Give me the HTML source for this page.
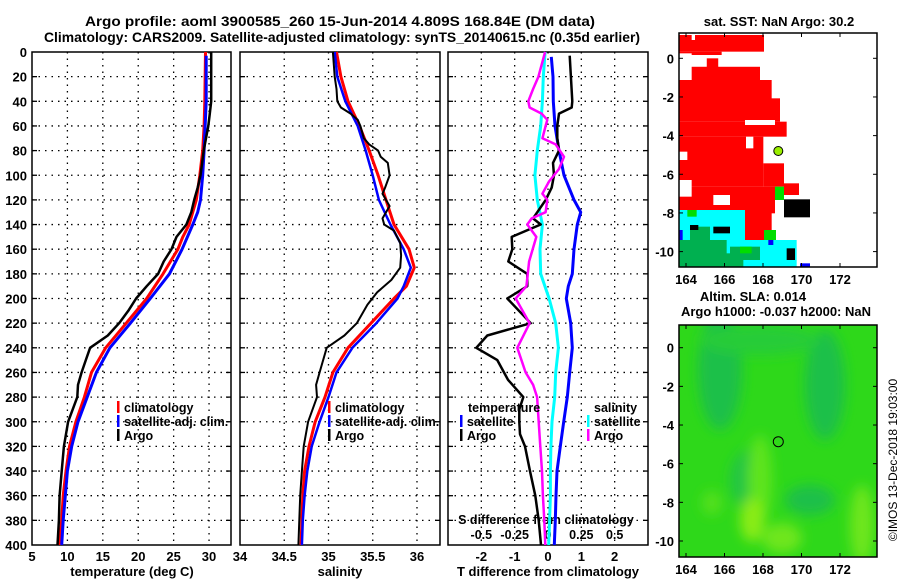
<!DOCTYPE html>
<html><head><meta charset="utf-8">
<style>
html,body{margin:0;padding:0;background:#fff;}
svg{display:block;font-family:"Liberation Sans",Arial,sans-serif;font-weight:bold;}
</style></head>
<body>
<svg id="chart" width="900" height="580" viewBox="0 0 900 580" xmlns="http://www.w3.org/2000/svg">
<text x="340" y="26" font-size="14" text-anchor="middle" textLength="510" lengthAdjust="spacingAndGlyphs">Argo profile: aoml 3900585_260 15-Jun-2014 4.809S 168.84E (DM data)</text>
<text x="342" y="42" font-size="14" text-anchor="middle" textLength="596" lengthAdjust="spacingAndGlyphs">Climatology: CARS2009. Satellite-adjusted climatology: synTS_20140615.nc (0.35d earlier)</text>
<g id="plots"></g>
<g id="maps"></g>
</svg>
<script>
// ---------- data ----------
const depthTicks = [0,20,40,60,80,100,120,140,160,180,200,220,240,260,280,300,320,340,360,380,400];
const tempTicks = [5,10,15,20,25,30];
const salTicks = [34,34.5,35,35.5,36];
const tdiffTicks = [-2,-1,0,1,2];
const sdiffTicks = [-0.5,-0.25,0,0.25,0.5];
const sdiffLabels = ["-0.5","-0.25","0","0.25","0.5"];

const argoTempDepth = [0,20,40,50,60,80,100,110,120,130,140,150,160,170,180,190,200,210,220,230,240,250,260,270,280,300,320,340,360,380,400];
const argoTemp = [30.3,30.3,30.3,30.1,29.9,29.25,28.8,28.4,27.9,27.5,26.8,25.4,24.7,23.6,22.8,21.2,19.7,18.6,17.3,15.7,13.2,12.6,12.0,11.5,11.4,10.1,9.5,9.2,8.9,8.8,8.6];
const climDepth = [0,40,60,80,100,120,140,150,160,180,200,220,240,260,280,300,320,340,360,380,400];
const climTemp = [29.5,29.4,29.3,29.1,28.7,28.2,27.2,26.3,25.6,23.5,21.2,18.3,15.4,13.4,12.4,11.2,10.3,9.8,9.4,9.2,8.9];
const satDepth = [3,40,80,100,120,130,140,160,180,200,220,240,260,280,300,320,340,360,380,400];
const satTemp = [29.6,29.6,29.3,29.1,28.8,28.4,27.7,26.2,24.4,21.7,18.9,16.0,14.1,12.8,11.5,10.6,10.0,9.7,9.4,9.2];

const argoSalDepth = [0,20,30,40,45,50,55,60,70,75,80,85,90,100,110,115,125,135,140,145,155,165,175,185,195,205,220,230,240,260,270,280,300,320,340,360,380,400];
const argoSal = [35.05,35.07,35.09,35.10,35.14,35.25,35.33,35.36,35.40,35.46,35.56,35.59,35.67,35.69,35.64,35.61,35.69,35.61,35.63,35.74,35.81,35.82,35.81,35.71,35.55,35.44,35.32,35.18,34.98,34.90,34.86,34.87,34.77,34.72,34.70,34.68,34.67,34.66];
const climSalDepth = [0,20,40,60,80,100,120,140,160,175,190,200,220,240,260,280,300,320,340,360,380,400];
const climSal = [35.09,35.14,35.22,35.35,35.46,35.56,35.65,35.74,35.91,35.97,35.88,35.74,35.48,35.22,35.05,34.96,34.85,34.78,34.73,34.71,34.70,34.69];
const satSalDepth = [0,20,40,60,80,100,120,140,160,175,190,200,220,240,260,280,300,320,340,360,380,400];
const satSal = [35.07,35.10,35.19,35.33,35.42,35.50,35.57,35.70,35.85,35.93,35.85,35.78,35.54,35.27,35.09,35.00,34.90,34.81,34.76,34.73,34.71,34.70];

const argoTdiffDepth = [3,40,45,50,60,70,80,90,100,110,120,135,140,150,160,170,180,190,200,220,230,240,250,266,280,290,300,310,320,340,360,380,400];
const argoTdiff = [0.65,0.73,0.71,0.33,0.28,0.28,0.33,0.15,0.18,0.11,-0.07,-0.45,-0.22,-1.09,-1.07,-1.19,-0.62,-0.62,-1.22,-0.52,-1.82,-2.15,-1.52,-1.2,-0.74,-0.86,-0.86,-0.84,-0.69,-0.54,-0.38,-0.28,-0.21];
const satTdiffDepth = [4,20,40,60,80,100,120,130,140,160,180,190,200,220,240,260,280,300,320,340,360,380,400];
const satTdiff = [0.10,0.15,0.16,0.21,0.33,0.48,0.78,0.98,0.88,0.78,0.73,0.61,0.55,0.68,0.73,0.65,0.58,0.47,0.37,0.27,0.24,0.22,0.19];
const satSdiffDepth = [0,20,40,60,80,100,120,140,160,180,200,220,240,260,280,300,320,340,360,380,400];
const satSdiff = [-0.022,-0.035,-0.042,-0.055,-0.08,-0.098,-0.08,-0.042,-0.06,-0.055,0.008,0.058,0.078,0.058,0.05,0.03,0.022,0.018,0.018,0.012,0.005];
const argoSdiffDepth = [0,20,30,40,45,50,55,60,70,75,85,95,105,115,120,130,135,140,150,170,190,200,220,240,260,270,280,300,320,340,360,380,400];
const argoSdiff = [-0.022,-0.072,-0.112,-0.148,-0.138,-0.048,-0.005,-0.018,-0.042,0.058,0.12,0.082,0.008,-0.042,-0.005,-0.018,-0.122,-0.155,-0.088,-0.142,-0.162,-0.242,-0.138,-0.23,-0.168,-0.112,-0.082,-0.07,-0.058,-0.045,-0.038,-0.028,-0.02];

// ---------- helpers ----------
const NS = "http://www.w3.org/2000/svg";
const plots = document.getElementById('plots');
function mk(tag, attrs, parent){const e=document.createElementNS(NS,tag);for(const k in attrs)e.setAttribute(k,attrs[k]);(parent||plots).appendChild(e);return e;}
const Y0=52, Y1=545;
const yScale = d => Y0 + (d/400)*(Y1-Y0);
function xs(p){return v => p.x0 + (v-p.min)/(p.max-p.min)*(p.x1-p.x0);}
const P1={x0:32,x1:231,min:5,max:33.1};
const P2={x0:240,x1:440,min:34,max:36.26};
const P3={x0:448,x1:648,min:-3,max:3};

function panel(p, gridX, name){
  const x=xs(p);
  const g=mk('g',{});
  
  
  gridX.forEach(v=>{ const l=mk('line',{x1:x(v),x2:x(v),y1:Y0,y2:Y1,stroke:'#000','stroke-width':1.3,'stroke-dasharray':'1.5,5'},g);
     });
  depthTicks.slice(1,-1).forEach(d=>{ const l=mk('line',{x1:p.x0,x2:p.x1,y1:yScale(d),y2:yScale(d),stroke:'#000','stroke-width':1.3,'stroke-dasharray':'1.5,5'},g);
     
    mk('line',{x1:p.x0,x2:p.x0+5,y1:yScale(d),y2:yScale(d),stroke:'#000','stroke-width':1.3},g);
    mk('line',{x1:p.x1-5,x2:p.x1,y1:yScale(d),y2:yScale(d),stroke:'#000','stroke-width':1.3},g);});
  const r=mk('rect',{x:p.x0,y:Y0,width:p.x1-p.x0,height:Y1-Y0,fill:'none',stroke:'#000','stroke-width':1.5},g);
   
  return g;
}
function line(p, depths, vals, color, w, name, scaleVal){
  const x=xs(p); const f=scaleVal||(v=>v);
  const pts=depths.map((d,i)=>x(f(vals[i])).toFixed(1)+','+yScale(d).toFixed(1)).join(' ');
  const e=mk('polyline',{points:pts,fill:'none',stroke:color,'stroke-width':w,'stroke-linejoin':'round'});
  
  
}
function txt(x,y,s,size,anchor,name,color){
  const e=mk('text',{x:x,y:y,'font-size':size,'text-anchor':anchor||'middle',fill:color||'#000'});
  e.textContent=s;
  
  
  return e;
}

// ---------- panels ----------
panel(P1,[10,15,20,25,30],'temperature-panel');
panel(P2,[34.5,35,35.5,36],'salinity-panel');
panel(P3,[-2,-1,0,1,2],'difference-panel');

depthTicks.forEach(d=>txt(27,yScale(d)+5,String(d),13,'end','depth-tick-label'));
tempTicks.forEach(v=>txt(xs(P1)(v),561,String(v),13,'middle','temperature-tick-label'));
salTicks.forEach(v=>txt(xs(P2)(v),561,String(v),13,'middle','salinity-tick-label'));
tdiffTicks.forEach(v=>txt(xs(P3)(v),561,String(v),13,'middle','tdiff-tick-label'));
sdiffTicks.forEach((v,i)=>txt(xs(P3)(v*4),539,sdiffLabels[i],12.5,'middle','sdiff-tick-label'));
txt(132,576,'temperature (deg C)',13,'middle','x-axis-title-temperature');
txt(340,576,'salinity',13,'middle','x-axis-title-salinity');
txt(548,576,'T difference from climatology',13,'middle','x-axis-title-tdiff');
txt(546,524,'S difference from climatology',12.5,'middle','s-axis-title-sdiff');

// series
line(P1,climDepth,climTemp,'#ff0000',3,'temperature-climatology-line');
line(P1,satDepth,satTemp,'#0000ff',3,'temperature-satellite-line');
line(P1,argoTempDepth,argoTemp,'#000',2.5,'temperature-argo-line');
line(P2,climSalDepth,climSal,'#ff0000',3,'salinity-climatology-line');
line(P2,satSalDepth,satSal,'#0000ff',2.5,'salinity-satellite-line');
line(P2,argoSalDepth,argoSal,'#000',2,'salinity-argo-line');
line(P3,satSdiffDepth,satSdiff,'#00ffff',3,'sdiff-satellite-line',v=>v*4);
line(P3,satTdiffDepth,satTdiff,'#0000ff',3,'tdiff-satellite-line');
line(P3,argoTdiffDepth,argoTdiff,'#000',2.5,'tdiff-argo-line');
line(P3,argoSdiffDepth,argoSdiff,'#ff00ff',2.5,'sdiff-argo-line',v=>v*4);

// legends
function legend(x,y,color,label,name){
  const r=mk('rect',{x:x,y:y-11,width:2.5,height:12,fill:color});
   
  txt(x+7,y,label,12.5,'start',name);
}
legend(117,412,'#ff0000','climatology','legend-climatology');
legend(117,426,'#0000ff','satellite-adj. clim.','legend-satellite-adj');
legend(117,440,'#000','Argo','legend-argo');
legend(328,412,'#ff0000','climatology','legend-climatology-sal');
legend(328,426,'#0000ff','satellite-adj. clim.','legend-satellite-adj-sal');
legend(328,440,'#000','Argo','legend-argo-sal');
txt(468,412,'temperature',12.5,'start','legend-temperature-header');
legend(460,426,'#0000ff','satellite','legend-temp-satellite');
legend(460,440,'#000','Argo','legend-temp-argo');
txt(594,412,'salinity',12.5,'start','legend-salinity-header');
legend(587,426,'#00ffff','satellite','legend-sal-satellite');
legend(587,440,'#ff00ff','Argo','legend-sal-argo');

// ---------- maps ----------
const maps=document.getElementById('maps');
function mm(tag,attrs,parent){return mk(tag,attrs,parent||maps);}
const lonTicks=[164,166,168,170,172];
const latTicks=[0,-2,-4,-6,-8,-10];
function mapFrame(top,bottom,lat0y,name){
  const lx=lon=>686+(lon-164)*19.25, ly=lat=>lat0y-lat*19.33;
  const r=mm('rect',{x:679,y:top,width:198,height:bottom-top,fill:'none',stroke:'#000','stroke-width':1.5});
   
  lonTicks.forEach(l=>{mm('line',{x1:lx(l),x2:lx(l),y1:top,y2:top+4,stroke:'#000'});mm('line',{x1:lx(l),x2:lx(l),y1:bottom-4,y2:bottom,stroke:'#000'});
    const t=mm('text',{x:lx(l),y:bottom+17,'font-size':13,'text-anchor':'middle'});t.textContent=String(l);
     });
  latTicks.forEach(l=>{mm('line',{x1:679,x2:683,y1:ly(l),y2:ly(l),stroke:'#000'});mm('line',{x1:873,x2:877,y1:ly(l),y2:ly(l),stroke:'#000'});
    const t=mm('text',{x:674,y:ly(l)+5,'font-size':13,'text-anchor':'end'});t.textContent=String(l);
     });
}
const sstRed=[[58,105,312,155],[58,155,185,165],[140,175,175,215],[95,200,300,260],[58,240,335,300],[58,295,360,365],[58,365,380,410],[58,410,310,560],[310,490,372,560],[58,560,345,640],[372,550,417,585],[210,620,335,720],[60,640,255,690]];
const sstWhite=[[95,105,105,120],[58,165,140,200],[175,165,312,200],[58,160,95,200],[255,360,345,375],[258,410,280,445],[58,455,82,480],[160,585,210,615],[58,540,95,590]];
const sstCyan=[[58,630,255,800],[255,720,410,800],[312,690,348,735]];
const sstDG=[[58,720,200,800],[130,760,250,800],[210,740,300,780],[90,680,150,720]];
const sstGreen=[[312,690,348,720],[82,630,110,650],[345,560,372,600],[240,740,275,760]];
const sstBlack=[[372,598,450,652],[160,680,210,700],[380,745,405,780],[90,675,115,690]];
const sstBlue=[[420,790,450,800],[58,690,68,720],[325,720,340,735]];
function blocks(list,color,name){list.forEach(b=>{const r=mm('rect',{x:660+b[0]/3,y:b[1]/3,width:(b[2]-b[0])/3,height:(b[3]-b[1])/3,fill:color});
   });}
blocks(sstRed,'#ff0000','sst-red-block');
blocks(sstWhite,'#ffffff','sst-gap');
blocks(sstCyan,'#00ffff','sst-cyan-block');
blocks(sstDG,'#00b050','sst-darkgreen-block');
blocks(sstGreen,'#00dd00','sst-green-block');
blocks(sstBlack,'#000000','sst-black-block');
blocks(sstBlue,'#0000ff','sst-blue-block');
mapFrame(33,267,58.3,'sst-map');
const dot=mm('circle',{cx:778.3,cy:151,r:4.5,fill:'#99ee00',stroke:'#000','stroke-width':1});
 
let t=mm('text',{x:779,y:26,'font-size':13,'text-anchor':'middle'});t.textContent='sat. SST: NaN Argo: 30.2';
 

// SLA map
const defs=mm('defs',{});
const flt=mm('filter',{id:'blur',x:'-20%',y:'-20%',width:'140%',height:'140%'},defs);
mm('feGaussianBlur',{stdDeviation:6},flt);
const cp=mm('clipPath',{id:'slaclip'},defs);
mm('rect',{x:679,y:325,width:198,height:232},cp);
const sla=mm('g',{'clip-path':'url(#slaclip)'});
 
mm('rect',{x:679,y:325,width:198,height:232,fill:'#2ed81a'},sla);
const blur=mm('g',{filter:'url(#blur)'},sla);
[[720,370,22,60,'#1fc048'],[825,385,20,55,'#1fc048'],[750,480,20,30,'#22c545'],[760,340,60,15,'#25cc38'],[760,480,12,45,'#5ee41a'],[752,520,12,22,'#8aec18'],[782,538,20,15,'#6ee61a'],[862,525,12,40,'#6ee61a'],[712,503,10,12,'#55e01a'],[810,500,25,15,'#1fc048']].forEach(e=>{
  const el=mm('ellipse',{cx:e[0],cy:e[1],rx:e[2],ry:e[3],fill:e[4]},blur);
   });
mapFrame(325,557,347.7,'sla-map');
const c2=mm('circle',{cx:778.3,cy:441.7,r:5,fill:'none',stroke:'#000','stroke-width':1});
 
t=mm('text',{x:753,y:301,'font-size':13,'text-anchor':'middle'});t.textContent='Altim. SLA: 0.014';
 
t=mm('text',{x:776,y:316,'font-size':13,'text-anchor':'middle'});t.textContent='Argo h1000: -0.037 h2000: NaN';
 
t=mm('text',{x:0,y:0,'font-size':12,'font-weight':'normal','text-anchor':'middle',transform:'translate(897,460) rotate(-90)'});t.textContent='©IMOS 13-Dec-2018 19:03:00';
 
</script>
</body></html>
